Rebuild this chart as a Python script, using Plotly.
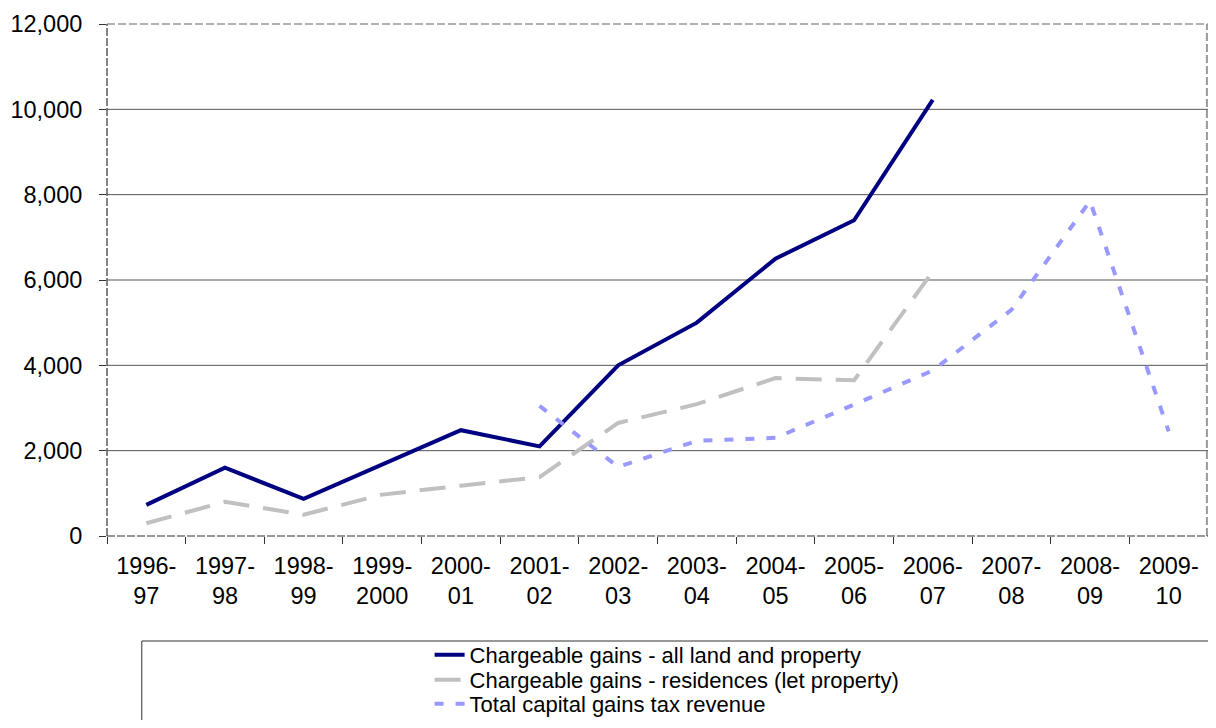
import plotly.graph_objects as go

years = ["1996-<br>97", "1997-<br>98", "1998-<br>99", "1999-<br>2000", "2000-<br>01",
         "2001-<br>02", "2002-<br>03", "2003-<br>04", "2004-<br>05", "2005-<br>06",
         "2006-<br>07", "2007-<br>08", "2008-<br>09", "2009-<br>10"]

all_land = [730, 1600, 870, 1680, 2480, 2100, 4000, 5000, 6500, 7400, 10220,
            None, None, None]
residences = [300, 800, 500, 970, 1180, 1380, 2650, 3090, 3700, 3650, 6200,
              None, None, None]
cgt_revenue = [None, None, None, None, None, 3050, 1620, 2230, 2300, 3080, 3880,
               5300, 7850, 2450]

names = ["Chargeable gains - all land and property",
         "Chargeable gains - residences (let property)",
         "Total capital gains tax revenue"]

grid_vals = [2000, 4000, 6000, 8000, 10000]

fig = go.Figure()
fig.add_trace(go.Scatter(x=years, y=all_land, name=names[0], mode="lines",
                         line=dict(color="#000080", width=4), legend="legend"))
fig.add_trace(go.Scatter(x=years, y=residences, name=names[1], mode="lines",
                         line=dict(color="#C0C0C0", width=4, dash="26px,14px"),
                         legend="legend2"))
fig.add_trace(go.Scatter(x=years, y=cgt_revenue, name=names[2], mode="lines",
                         line=dict(color="#9999FF", width=4, dash="9px,12px"),
                         legend="legend3"))

# gridlines
for g in grid_vals:
    fig.add_shape(type="line", xref="paper", yref="y", x0=0, x1=1, y0=g, y1=g,
                  line=dict(color="#555555", width=1), layer="below")

# plot border, dashed like the original
fig.add_shape(type="line", xref="paper", yref="paper", x0=0, x1=1, y0=1, y1=1,
              line=dict(color="#999999", width=1.5, dash="8px,3px"))
fig.add_shape(type="line", xref="paper", yref="paper", x0=0.999, x1=0.999, y0=0, y1=1,
              line=dict(color="#999999", width=2, dash="8px,3px"))
fig.add_shape(type="line", xref="paper", yref="paper", x0=0, x1=0, y0=0, y1=1,
              line=dict(color="#333333", width=1.2, dash="8px,2px"))
fig.add_shape(type="line", xref="paper", yref="paper", x0=0, x1=1, y0=0, y1=0,
              line=dict(color="#333333", width=1.2, dash="8px,2px"))

# legend box
fig.add_shape(type="rect", xref="paper", yref="paper", x0=0.0316, x1=1.02,
              y0=-0.42, y1=-0.2051, line=dict(color="#333333", width=1))

# legends placed in container coordinates so they do not push the margins
leg = dict(x=0.293, xanchor="left", yanchor="middle", yref="container",
           bgcolor="rgba(0,0,0,0)", font=dict(size=22), itemwidth=30)
fig.update_layout(
    width=1200, height=712,
    margin=dict(l=99, r=0, t=16, b=184),
    paper_bgcolor="white", plot_bgcolor="white",
    font=dict(family="Liberation Sans, Arial", size=23.5, color="black"),
    showlegend=True,
    legend=dict(leg, y=0.0913),
    legend2=dict(leg, y=0.0562),
    legend3=dict(leg, y=0.0225),
)
fig.update_xaxes(type="category", showgrid=False, zeroline=False, showline=False,
                 ticks="outside", ticklen=7, tickcolor="#333333",
                 tickson="boundaries", range=[-0.5, 13.5], ticklabelstandoff=13)
fig.update_yaxes(range=[0, 12000], dtick=2000, tickformat=",", showgrid=False,
                 zeroline=False, showline=False, ticks="outside", ticklen=7,
                 tickcolor="#333333", ticklabelstandoff=12)

fig.write_html("out.html")
